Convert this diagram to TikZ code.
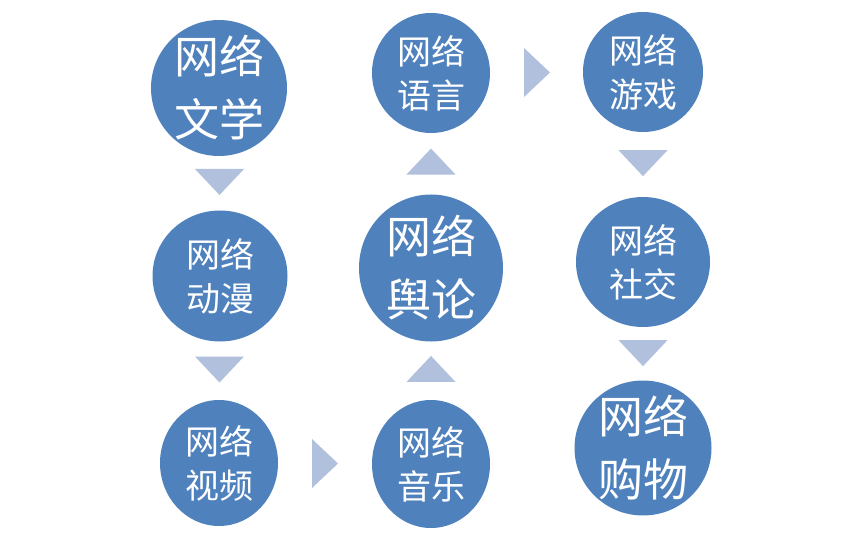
\documentclass[tikz,border=0pt]{standalone}
\usepackage{fontspec}
\newfontfamily\cjk{Noto Sans CJK SC}
\usetikzlibrary{shapes.geometric,calc}
\definecolor{ballblue}{HTML}{4F81BD}
\definecolor{tiplight}{HTML}{B0C0DD}
\tikzset{
  ball/.style={ellipse,fill=ballblue,inner sep=0pt},
  bigtxt/.style={text=white,align=center,font=\cjk\fontsize{45}{63}\selectfont},
  smalltxt/.style={text=white,align=center,font=\cjk\fontsize{34}{44}\selectfont},
  tip/.style={fill=tiplight}
}
\begin{document}
\begin{tikzpicture}[x=1pt,y=-1pt]
\useasboundingbox(0,0)rectangle(862,548);
\node[ball,minimum width=136pt,minimum height=136pt,label={[bigtxt]center:网络\\文学}](wenxue)at(219,88){};
\node[ball,minimum width=135pt,minimum height=131pt,label={[smalltxt]center:网络\\动漫}](dongman)at(220,276){};
\node[ball,minimum width=118pt,minimum height=126pt,label={[smalltxt]center:网络\\视频}](shipin)at(219,463){};
\node[ball,minimum width=118pt,minimum height=128pt,label={[smalltxt]center:网络\\音乐}](yinyue)at(431,464){};
\node[ball,minimum width=144pt,minimum height=147pt,label={[bigtxt]center:网络\\舆论}](yulun)at(431,268){};
\node[ball,minimum width=118pt,minimum height=120pt,label={[smalltxt]center:网络\\语言}](yuyan)at(431,73){};
\node[ball,minimum width=120pt,minimum height=120pt,label={[smalltxt]center:网络\\游戏}](youxi)at(643,72){};
\node[ball,minimum width=134pt,minimum height=130pt,label={[smalltxt]center:网络\\社交}](shejiao)at(643,262){};
\node[ball,minimum width=137pt,minimum height=135pt,label={[bigtxt]center:网络\\购物}](gouwu)at(643,448){};
% arrow tips: 0 down, 90 right, 180 up
\foreach \a/\b/\p/\r in {wenxue/dongman/.5/0,dongman/shipin/.5/0,shipin/yinyue/.5/90,yinyue/yulun/.485/180,
  yulun/yuyan/.546/180,yuyan/youxi/.5/90,youxi/shejiao/.48/0,shejiao/gouwu/.49/0}
  \fill[tip,shift={($(\a)!\p!(\b)$)},rotate=\r](-24.5,-13)--(24.5,-13)--(0,13)--cycle;
\end{tikzpicture}
\end{document}
